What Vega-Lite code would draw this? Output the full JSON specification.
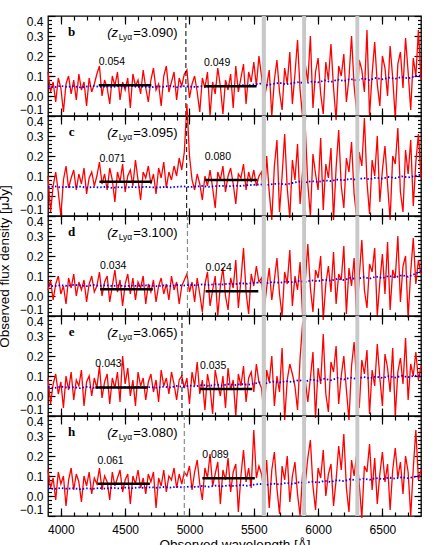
{
"$schema":"https://vega.github.io/schema/vega-lite/v6.json",
"padding":{"left":-4,"top":14,"right":15,"bottom":0},
"bounds":"flush",
"spacing":0,
"config":{"view":{"stroke":"black","strokeWidth":1.3},"font":"Liberation Sans","axis":{"domain":false,"grid":false,"tickColor":"black","tickWidth":1.2,"labelColor":"black","labelFont":"Liberation Sans","labelFontSize":12,"titleFont":"Liberation Sans","titleFontWeight":"normal","titleColor":"black"}},
"datasets":{
"red":[
{"w":3900,"b":0.12,"c":0.10,"d":0.03,"e":0.09,"h":0.13},
{"w":3920,"b":0.02,"c":-0.08,"d":0.08,"e":-0.04,"h":0.04},
{"w":3940,"b":0.07,"c":0.05,"d":-0.02,"e":0.06,"h":0.09},
{"w":3960,"b":-0.03,"c":0.12,"d":0.06,"e":0.11,"h":-0.02},
{"w":3980,"b":0.09,"c":0.02,"d":0.10,"e":0.01,"h":0.12},
{"w":4000,"b":0.04,"c":-0.10,"d":0.01,"e":0.07,"h":0.06},
{"w":4020,"b":-0.08,"c":0.08,"d":0.05,"e":-0.06,"h":0.10},
{"w":4040,"b":0.06,"c":0.15,"d":-0.04,"e":0.10,"h":-0.05},
{"w":4060,"b":0.10,"c":0.04,"d":0.09,"e":0.03,"h":0.08},
{"w":4080,"b":0.01,"c":0.09,"d":0.04,"e":0.12,"h":0.14},
{"w":4100,"b":0.08,"c":0.13,"d":0.11,"e":-0.02,"h":0.03},
{"w":4120,"b":-0.02,"c":0.03,"d":0.00,"e":0.08,"h":0.11},
{"w":4140,"b":0.11,"c":0.11,"d":0.07,"e":0.05,"h":0.07},
{"w":4160,"b":0.03,"c":0.06,"d":0.03,"e":0.13,"h":-0.03},
{"w":4180,"b":0.07,"c":0.14,"d":0.08,"e":-0.05,"h":0.10},
{"w":4200,"b":-0.05,"c":0.01,"d":-0.03,"e":0.07,"h":0.05},
{"w":4220,"b":0.09,"c":0.09,"d":0.06,"e":0.10,"h":0.12},
{"w":4240,"b":0.02,"c":0.12,"d":0.10,"e":0.00,"h":0.01},
{"w":4260,"b":0.06,"c":0.05,"d":0.02,"e":0.09,"h":0.09},
{"w":4280,"b":0.11,"c":0.10,"d":0.05,"e":0.04,"h":0.06},
{"w":4300,"b":0.15,"c":0.17,"d":0.12,"e":0.15,"h":0.14},
{"w":4320,"b":0.00,"c":0.06,"d":0.00,"e":-0.01,"h":0.03},
{"w":4340,"b":0.08,"c":0.11,"d":0.07,"e":0.07,"h":0.10},
{"w":4360,"b":0.04,"c":0.03,"d":0.10,"e":0.11,"h":0.07},
{"w":4380,"b":-0.04,"c":0.14,"d":-0.03,"e":-0.04,"h":-0.02},
{"w":4400,"b":0.10,"c":0.08,"d":0.05,"e":0.09,"h":0.12},
{"w":4420,"b":0.05,"c":-0.03,"d":0.13,"e":0.04,"h":0.05},
{"w":4440,"b":0.12,"c":0.12,"d":0.02,"e":0.12,"h":0.09},
{"w":4460,"b":-0.02,"c":0.07,"d":0.08,"e":-0.03,"h":0.13},
{"w":4480,"b":0.07,"c":0.16,"d":-0.05,"e":0.20,"h":0.02},
{"w":4500,"b":0.03,"c":0.02,"d":0.06,"e":0.06,"h":0.08},
{"w":4520,"b":0.09,"c":0.10,"d":0.11,"e":0.14,"h":0.11},
{"w":4540,"b":-0.06,"c":0.13,"d":0.01,"e":0.00,"h":-0.04},
{"w":4560,"b":0.11,"c":0.05,"d":0.09,"e":0.08,"h":0.10},
{"w":4580,"b":0.05,"c":0.18,"d":-0.02,"e":-0.05,"h":0.06},
{"w":4600,"b":0.08,"c":0.08,"d":0.07,"e":0.12,"h":0.13},
{"w":4620,"b":0.01,"c":-0.02,"d":0.04,"e":0.05,"h":0.04},
{"w":4640,"b":0.13,"c":0.12,"d":0.10,"e":0.09,"h":0.09},
{"w":4660,"b":0.04,"c":0.09,"d":-0.04,"e":-0.02,"h":0.01},
{"w":4680,"b":-0.03,"c":0.15,"d":0.06,"e":0.07,"h":0.11},
{"w":4700,"b":0.08,"c":0.06,"d":0.02,"e":0.11,"h":0.07},
{"w":4720,"b":0.14,"c":0.11,"d":0.08,"e":0.02,"h":0.12},
{"w":4740,"b":0.03,"c":0.01,"d":-0.03,"e":0.08,"h":-0.06},
{"w":4760,"b":0.06,"c":0.14,"d":0.05,"e":-0.03,"h":0.09},
{"w":4780,"b":-0.05,"c":0.09,"d":0.09,"e":0.13,"h":0.05},
{"w":4800,"b":0.10,"c":0.17,"d":0.01,"e":0.05,"h":0.13},
{"w":4820,"b":0.15,"c":0.04,"d":0.06,"e":0.09,"h":0.02},
{"w":4840,"b":0.02,"c":0.12,"d":-0.02,"e":0.01,"h":0.10},
{"w":4860,"b":0.07,"c":0.08,"d":0.10,"e":0.12,"h":0.08},
{"w":4880,"b":0.12,"c":0.15,"d":0.03,"e":0.06,"h":0.14},
{"w":4900,"b":-0.02,"c":0.10,"d":0.07,"e":-0.02,"h":0.04},
{"w":4920,"b":0.09,"c":0.19,"d":-0.04,"e":0.08,"h":0.11},
{"w":4940,"b":0.05,"c":0.13,"d":0.05,"e":0.10,"h":0.06},
{"w":4960,"b":0.11,"c":0.22,"d":0.08,"e":0.04,"h":0.12},
{"w":4980,"b":0.13,"c":0.46,"d":0.11,"e":0.09,"h":0.10},
{"w":5000,"b":-0.01,"c":0.20,"d":0.02,"e":-0.04,"h":0.15},
{"w":5020,"b":0.06,"c":0.08,"d":0.07,"e":0.12,"h":0.03},
{"w":5040,"b":0.10,"c":0.03,"d":-0.03,"e":0.05,"h":0.12},
{"w":5060,"b":0.02,"c":0.11,"d":0.09,"e":0.17,"h":0.18},
{"w":5080,"b":-0.08,"c":0.06,"d":0.01,"e":0.01,"h":0.06},
{"w":5100,"b":0.09,"c":-0.02,"d":-0.08,"e":0.08,"h":-0.02},
{"w":5120,"b":0.04,"c":0.10,"d":0.06,"e":-0.07,"h":0.14},
{"w":5140,"b":0.12,"c":0.05,"d":0.12,"e":0.11,"h":0.09},
{"w":5160,"b":-0.10,"c":0.13,"d":-0.05,"e":0.04,"h":0.21},
{"w":5180,"b":0.07,"c":0.04,"d":0.03,"e":-0.09,"h":0.05},
{"w":5200,"b":0.01,"c":-0.06,"d":0.10,"e":0.13,"h":0.11},
{"w":5220,"b":0.14,"c":0.12,"d":-0.10,"e":0.06,"h":0.17},
{"w":5240,"b":0.05,"c":0.08,"d":0.05,"e":0.00,"h":-0.04},
{"w":5260,"b":-0.09,"c":0.15,"d":0.14,"e":0.10,"h":0.13},
{"w":5280,"b":0.08,"c":0.02,"d":0.00,"e":-0.06,"h":0.08},
{"w":5300,"b":0.03,"c":0.10,"d":-0.07,"e":0.14,"h":0.19},
{"w":5320,"b":0.11,"c":0.14,"d":0.09,"e":0.03,"h":0.02},
{"w":5340,"b":-0.06,"c":0.06,"d":0.04,"e":0.08,"h":0.12},
{"w":5360,"b":0.15,"c":-0.04,"d":0.18,"e":-0.10,"h":0.16},
{"w":5380,"b":0.02,"c":0.11,"d":-0.06,"e":0.11,"h":-0.08},
{"w":5400,"b":0.09,"c":0.09,"d":0.08,"e":0.05,"h":0.10},
{"w":5420,"b":0.16,"c":0.16,"d":0.24,"e":0.15,"h":0.23},
{"w":5440,"b":-0.04,"c":0.03,"d":0.02,"e":-0.03,"h":0.07},
{"w":5460,"b":0.12,"c":0.12,"d":-0.09,"e":0.09,"h":0.14},
{"w":5480,"b":0.07,"c":0.07,"d":0.11,"e":0.12,"h":0.04},
{"w":5500,"b":0.17,"c":0.13,"d":0.05,"e":0.02,"h":0.33},
{"w":5520,"b":0.05,"c":0.05,"d":0.15,"e":0.16,"h":0.09},
{"w":5540,"b":0.20,"c":0.10,"d":0.07,"e":0.07,"h":0.15},
{"w":5560,"b":0.10,"c":0.12,"d":0.09,"e":0.04,"h":0.11},
{"w":5580,"b":-0.02,"c":-0.05,"d":-0.07,"e":-0.10,"h":0.02},
{"w":5600,"b":0.05,"c":0.20,"d":0.04,"e":0.13,"h":0.18},
{"w":5620,"b":0.13,"c":0.02,"d":0.14,"e":0.07,"h":-0.06},
{"w":5640,"b":-0.10,"c":-0.12,"d":-0.02,"e":0.20,"h":0.13},
{"w":5660,"b":0.08,"c":0.15,"d":0.08,"e":-0.05,"h":0.22},
{"w":5680,"b":0.18,"c":0.28,"d":0.19,"e":0.10,"h":0.04},
{"w":5700,"b":0.02,"c":-0.08,"d":0.01,"e":0.02,"h":-0.09},
{"w":5720,"b":-0.07,"c":0.10,"d":-0.10,"e":0.24,"h":0.15},
{"w":5740,"b":0.14,"c":0.31,"d":0.12,"e":-0.12,"h":0.08},
{"w":5760,"b":0.06,"c":0.04,"d":0.06,"e":0.08,"h":0.20},
{"w":5780,"b":0.22,"c":-0.11,"d":0.23,"e":0.16,"h":-0.03},
{"w":5800,"b":-0.04,"c":0.18,"d":-0.05,"e":0.11,"h":0.10},
{"w":5820,"b":0.11,"c":0.08,"d":0.10,"e":0.05,"h":0.17},
{"w":5840,"b":0.28,"c":0.26,"d":0.03,"e":-0.07,"h":0.01},
{"w":5860,"b":0.03,"c":-0.04,"d":0.17,"e":0.19,"h":-0.10},
{"w":5880,"b":-0.11,"c":0.13,"d":-0.11,"e":0.37,"h":0.12},
{"w":5900,"b":0.16,"c":0.35,"d":0.07,"e":0.08,"h":0.06},
{"w":5920,"b":0.07,"c":0.06,"d":0.26,"e":-0.03,"h":0.19},
{"w":5940,"b":0.30,"c":-0.10,"d":0.04,"e":0.09,"h":0.28},
{"w":5960,"b":-0.06,"c":0.21,"d":-0.08,"e":0.22,"h":0.05},
{"w":5980,"b":0.12,"c":0.11,"d":0.13,"e":-0.11,"h":-0.07},
{"w":6000,"b":0.19,"c":0.03,"d":0.09,"e":0.14,"h":0.14},
{"w":6020,"b":0.01,"c":0.29,"d":0.20,"e":0.06,"h":0.09},
{"w":6040,"b":-0.09,"c":-0.07,"d":-0.12,"e":0.31,"h":0.23},
{"w":6060,"b":0.17,"c":0.16,"d":0.06,"e":0.01,"h":0.00},
{"w":6080,"b":0.08,"c":0.09,"d":0.15,"e":-0.08,"h":0.11},
{"w":6100,"b":0.26,"c":0.24,"d":0.02,"e":0.17,"h":0.16},
{"w":6120,"b":0.04,"c":-0.12,"d":0.22,"e":0.12,"h":-0.05},
{"w":6140,"b":-0.12,"c":0.14,"d":-0.04,"e":0.25,"h":0.08},
{"w":6160,"b":0.15,"c":0.33,"d":0.11,"e":-0.04,"h":0.25},
{"w":6180,"b":0.10,"c":0.05,"d":0.08,"e":0.10,"h":0.13},
{"w":6200,"b":0.21,"c":-0.06,"d":0.25,"e":0.20,"h":0.31},
{"w":6220,"b":-0.03,"c":0.19,"d":-0.09,"e":0.03,"h":0.04},
{"w":6240,"b":0.09,"c":0.12,"d":0.14,"e":-0.12,"h":-0.08},
{"w":6260,"b":0.30,"c":0.27,"d":0.05,"e":0.15,"h":0.18},
{"w":6280,"b":0.05,"c":0.01,"d":0.19,"e":0.27,"h":0.10},
{"w":6300,"b":-0.08,"c":-0.11,"d":-0.12,"e":0.07,"h":0.21},
{"w":6320,"b":0.18,"c":0.22,"d":0.10,"e":-0.06,"h":0.06},
{"w":6340,"b":0.13,"c":0.15,"d":0.28,"e":0.18,"h":-0.11},
{"w":6360,"b":0.02,"c":0.39,"d":0.03,"e":0.11,"h":0.15},
{"w":6380,"b":0.33,"c":0.07,"d":-0.06,"e":0.23,"h":0.12},
{"w":6400,"b":-0.10,"c":-0.09,"d":0.16,"e":-0.09,"h":0.26},
{"w":6420,"b":0.11,"c":0.18,"d":0.12,"e":0.13,"h":0.03},
{"w":6440,"b":0.27,"c":0.10,"d":0.24,"e":0.05,"h":0.19},
{"w":6460,"b":0.06,"c":0.30,"d":-0.10,"e":0.26,"h":-0.04},
{"w":6480,"b":-0.05,"c":-0.03,"d":0.07,"e":0.09,"h":0.11},
{"w":6500,"b":0.20,"c":0.13,"d":0.21,"e":-0.05,"h":0.22},
{"w":6520,"b":0.14,"c":0.25,"d":0.01,"e":0.21,"h":0.07},
{"w":6540,"b":0.00,"c":0.06,"d":0.27,"e":0.14,"h":0.16},
{"w":6560,"b":0.25,"c":-0.12,"d":-0.07,"e":0.02,"h":-0.07},
{"w":6580,"b":0.09,"c":0.20,"d":0.13,"e":0.24,"h":0.13},
{"w":6600,"b":-0.11,"c":0.16,"d":0.09,"e":-0.10,"h":0.24},
{"w":6620,"b":0.16,"c":0.34,"d":0.30,"e":0.12,"h":0.09},
{"w":6640,"b":0.22,"c":0.02,"d":-0.03,"e":0.19,"h":0.17},
{"w":6660,"b":0.04,"c":-0.08,"d":0.15,"e":0.06,"h":0.01},
{"w":6680,"b":0.29,"c":0.23,"d":0.20,"e":0.29,"h":0.20},
{"w":6700,"b":0.12,"c":0.11,"d":-0.11,"e":-0.02,"h":0.12},
{"w":6720,"b":-0.07,"c":0.28,"d":0.12,"e":0.16,"h":-0.10},
{"w":6740,"b":0.19,"c":-0.05,"d":0.29,"e":0.10,"h":0.14},
{"w":6760,"b":0.10,"c":0.17,"d":0.06,"e":0.22,"h":0.33},
{"w":6780,"b":0.33,"c":0.31,"d":0.18,"e":0.08,"h":0.08},
{"w":6800,"b":0.08,"c":0.09,"d":0.11,"e":0.15,"h":0.13}
],
"blue":[
{"w":3900,"b":0.048,"c":0.045,"d":0.052,"e":0.045,"h":0.038},
{"w":3950,"b":0.044,"c":0.048,"d":0.049,"e":0.040,"h":0.035},
{"w":4000,"b":0.050,"c":0.043,"d":0.054,"e":0.047,"h":0.040},
{"w":4050,"b":0.046,"c":0.046,"d":0.050,"e":0.042,"h":0.036},
{"w":4100,"b":0.049,"c":0.044,"d":0.056,"e":0.044,"h":0.039},
{"w":4150,"b":0.043,"c":0.047,"d":0.053,"e":0.039,"h":0.034},
{"w":4200,"b":0.047,"c":0.042,"d":0.049,"e":0.046,"h":0.038},
{"w":4250,"b":0.051,"c":0.045,"d":0.055,"e":0.041,"h":0.036},
{"w":4300,"b":0.045,"c":0.043,"d":0.051,"e":0.043,"h":0.040},
{"w":4350,"b":0.048,"c":0.046,"d":0.054,"e":0.040,"h":0.037},
{"w":4400,"b":0.044,"c":0.041,"d":0.050,"e":0.045,"h":0.041},
{"w":4450,"b":0.049,"c":0.044,"d":0.053,"e":0.041,"h":0.038},
{"w":4500,"b":0.046,"c":0.042,"d":0.049,"e":0.044,"h":0.042},
{"w":4550,"b":0.050,"c":0.045,"d":0.052,"e":0.040,"h":0.039},
{"w":4600,"b":0.045,"c":0.043,"d":0.050,"e":0.046,"h":0.043},
{"w":4650,"b":0.047,"c":0.046,"d":0.054,"e":0.042,"h":0.040},
{"w":4700,"b":0.043,"c":0.044,"d":0.051,"e":0.045,"h":0.044},
{"w":4750,"b":0.048,"c":0.042,"d":0.049,"e":0.041,"h":0.041},
{"w":4800,"b":0.046,"c":0.045,"d":0.053,"e":0.047,"h":0.045},
{"w":4850,"b":0.051,"c":0.043,"d":0.050,"e":0.043,"h":0.042},
{"w":4900,"b":0.044,"c":0.046,"d":0.055,"e":0.050,"h":0.046},
{"w":4950,"b":0.049,"c":0.048,"d":0.052,"e":0.046,"h":0.043},
{"w":5000,"b":0.047,"c":0.045,"d":0.056,"e":0.052,"h":0.048},
{"w":5050,"b":0.045,"c":0.047,"d":0.053,"e":0.048,"h":0.045},
{"w":5100,"b":0.050,"c":0.050,"d":0.058,"e":0.055,"h":0.050},
{"w":5150,"b":0.046,"c":0.046,"d":0.055,"e":0.050,"h":0.046},
{"w":5200,"b":0.052,"c":0.049,"d":0.060,"e":0.057,"h":0.052},
{"w":5250,"b":0.048,"c":0.051,"d":0.057,"e":0.052,"h":0.048},
{"w":5300,"b":0.053,"c":0.048,"d":0.062,"e":0.059,"h":0.053},
{"w":5350,"b":0.049,"c":0.052,"d":0.059,"e":0.054,"h":0.050},
{"w":5400,"b":0.055,"c":0.050,"d":0.064,"e":0.060,"h":0.055},
{"w":5450,"b":0.052,"c":0.054,"d":0.061,"e":0.056,"h":0.051},
{"w":5500,"b":0.058,"c":0.056,"d":0.066,"e":0.062,"h":0.057},
{"w":5550,"b":0.062,"c":0.058,"d":0.068,"e":0.068,"h":0.060},
{"w":5600,"b":0.055,"c":0.055,"d":0.064,"e":0.064,"h":0.056},
{"w":5650,"b":0.060,"c":0.060,"d":0.070,"e":0.072,"h":0.062},
{"w":5700,"b":0.066,"c":0.062,"d":0.066,"e":0.067,"h":0.058},
{"w":5750,"b":0.058,"c":0.058,"d":0.072,"e":0.075,"h":0.065},
{"w":5800,"b":0.064,"c":0.065,"d":0.069,"e":0.070,"h":0.061},
{"w":5850,"b":0.070,"c":0.072,"d":0.075,"e":0.080,"h":0.068},
{"w":5900,"b":0.062,"c":0.068,"d":0.071,"e":0.072,"h":0.064},
{"w":5950,"b":0.072,"c":0.074,"d":0.078,"e":0.083,"h":0.072},
{"w":6000,"b":0.068,"c":0.070,"d":0.074,"e":0.076,"h":0.067},
{"w":6050,"b":0.078,"c":0.078,"d":0.082,"e":0.086,"h":0.076},
{"w":6100,"b":0.070,"c":0.075,"d":0.077,"e":0.079,"h":0.070},
{"w":6150,"b":0.082,"c":0.082,"d":0.086,"e":0.090,"h":0.080},
{"w":6200,"b":0.075,"c":0.079,"d":0.080,"e":0.082,"h":0.074},
{"w":6250,"b":0.085,"c":0.086,"d":0.090,"e":0.092,"h":0.084},
{"w":6300,"b":0.078,"c":0.080,"d":0.084,"e":0.085,"h":0.078},
{"w":6350,"b":0.088,"c":0.090,"d":0.094,"e":0.095,"h":0.087},
{"w":6400,"b":0.080,"c":0.084,"d":0.087,"e":0.088,"h":0.081},
{"w":6450,"b":0.090,"c":0.092,"d":0.097,"e":0.097,"h":0.090},
{"w":6500,"b":0.083,"c":0.087,"d":0.090,"e":0.090,"h":0.084},
{"w":6550,"b":0.092,"c":0.095,"d":0.100,"e":0.099,"h":0.092},
{"w":6600,"b":0.086,"c":0.089,"d":0.093,"e":0.092,"h":0.087},
{"w":6650,"b":0.095,"c":0.098,"d":0.104,"e":0.101,"h":0.094},
{"w":6700,"b":0.088,"c":0.093,"d":0.096,"e":0.094,"h":0.089},
{"w":6750,"b":0.098,"c":0.100,"d":0.110,"e":0.102,"h":0.096},
{"w":6800,"b":0.104,"c":0.106,"d":0.125,"e":0.098,"h":0.100}
],
"panels":[
{"p":"b","lya":4972.1,"zt":"=3.090)"},
{"p":"c","lya":4978.2,"zt":"=3.095)"},
{"p":"d","lya":4984.2,"zt":"=3.100)"},
{"p":"e","lya":4941.7,"zt":"=3.065)"},
{"p":"h","lya":4959.9,"zt":"=3.080)"}
],
"bars":[
{"p":"b","x1":4294.5,"x2":4703.5,"v":0.054},
{"p":"b","x1":5112.5,"x2":5521.5,"v":0.049},
{"p":"c","x1":4299.8,"x2":4709.3,"v":0.071},
{"p":"c","x1":5118.8,"x2":5528.3,"v":0.080},
{"p":"d","x1":4305,"x2":4715,"v":0.034},
{"p":"d","x1":5125,"x2":5535,"v":0.024},
{"p":"e","x1":4268.3,"x2":4674.8,"v":0.043},
{"p":"e","x1":5081.3,"x2":5487.8,"v":0.035},
{"p":"h","x1":4284,"x2":4692,"v":0.061},
{"p":"h","x1":5100,"x2":5508,"v":0.089}
],
"bands":[
{"s":5562,"e":5594},
{"s":5876,"e":5906},
{"s":6290,"e":6320}
]
},
"vconcat":[
{"width":373,"height":100,"resolve":{"axis":{"x":"independent","y":"independent"}},
"layer":[
{"data":{"name":"red"},"mark":{"type":"line","color":"#ff0000","strokeWidth":1.3},
"encoding":{"x":{"field":"w","type":"quantitative","scale":{"domain":[3900,6800],"nice":false,"zero":false},"axis":{"orient":"bottom","values":[4000,4500,5000,5500,6000,6500],"tickSize":-8,"labels":false,"title":null}},
"y":{"field":"b","type":"quantitative","scale":{"domain":[-0.1,0.4],"nice":false,"zero":false},"axis":{"orient":"left","values":[-0.1,0,0.1,0.2,0.3,0.4],"tickSize":-7,"labelFlush":true,"format":".1f","labelPadding":12,"title":null}}}},
{"data":{"name":"blue"},"mark":{"type":"line","color":"#0000ff","strokeWidth":1.8,"strokeDash":[1.5,2]},
"encoding":{"x":{"field":"w","type":"quantitative","axis":{"orient":"bottom","values":[4000,4100,4200,4300,4400,4500,4600,4700,4800,4900,5000,5100,5200,5300,5400,5500,5600,5700,5800,5900,6000,6100,6200,6300,6400,6500,6600,6700],"tickSize":-4,"labels":false,"title":null}},
"y":{"field":"b","type":"quantitative","axis":{"orient":"left","values":[-0.08,-0.06,-0.04,-0.02,0,0.02,0.04,0.06,0.08,0.1,0.12,0.14,0.16,0.18,0.2,0.22,0.24,0.26,0.28,0.3,0.32,0.34,0.36,0.38],"tickSize":-3.5,"labels":false,"title":null}}}},
{"data":{"name":"bands"},"mark":{"type":"rect","color":"#c8c8c8"},
"encoding":{"x":{"field":"s","type":"quantitative","axis":{"orient":"top","values":[4000,4500,5000,5500,6000,6500],"tickSize":-8,"labels":false,"title":null}},"x2":{"field":"e"},
"y":{"datum":-0.1,"type":"quantitative","axis":{"orient":"right","values":[-0.1,0,0.1,0.2,0.3,0.4],"tickSize":-7,"labels":false,"title":null}},"y2":{"datum":0.4}}},
{"data":{"name":"panels"},"transform":[{"filter":"datum.p=='b'"}],"mark":{"type":"rule","color":"black","strokeWidth":1,"strokeDash":[5,3]},
"encoding":{"x":{"field":"lya","type":"quantitative","axis":{"orient":"top","values":[4000,4100,4200,4300,4400,4500,4600,4700,4800,4900,5000,5100,5200,5300,5400,5500,5600,5700,5800,5900,6000,6100,6200,6300,6400,6500,6600,6700],"tickSize":-4,"labels":false,"title":null}},
"y":{"datum":-0.1,"type":"quantitative","axis":{"orient":"right","values":[-0.08,-0.06,-0.04,-0.02,0,0.02,0.04,0.06,0.08,0.1,0.12,0.14,0.16,0.18,0.2,0.22,0.24,0.26,0.28,0.3,0.32,0.34,0.36,0.38],"tickSize":-3.5,"labels":false,"title":null}},"y2":{"datum":0.4}}},
{"data":{"name":"bars"},"transform":[{"filter":"datum.p=='b'"}],"mark":{"type":"rule","color":"black","strokeWidth":2.5},
"encoding":{"x":{"field":"x1","type":"quantitative","axis":null},"x2":{"field":"x2"},"y":{"field":"v","type":"quantitative","axis":null}}},
{"data":{"name":"bars"},"transform":[{"filter":"datum.p=='b'"}],"mark":{"type":"text","align":"left","baseline":"middle","dy":-23,"fontSize":10.5,"color":"black"},
"encoding":{"x":{"field":"x1","type":"quantitative","axis":null},"y":{"field":"v","type":"quantitative","axis":null},"text":{"field":"v","format":".3f"}}},
{"data":{"name":"panels"},"transform":[{"filter":"datum.p=='b'"}],"mark":{"type":"text","font":"Liberation Serif","fontWeight":"bold","fontSize":13,"align":"center","baseline":"middle","color":"black"},
"encoding":{"x":{"datum":4084,"type":"quantitative","axis":null},"y":{"datum":0.318,"type":"quantitative","axis":null},"text":{"field":"p"}}},
{"data":{"name":"panels"},"transform":[{"filter":"datum.p=='b'"}],"mark":{"type":"text","fontSize":13,"fontStyle":"italic","align":"left","baseline":"middle","color":"black"},
"encoding":{"x":{"datum":4360,"type":"quantitative","axis":null},"y":{"datum":0.315,"type":"quantitative","axis":null},"text":{"value":"(z"}}},
{"data":{"name":"panels"},"transform":[{"filter":"datum.p=='b'"}],"mark":{"type":"text","fontSize":8.5,"align":"left","baseline":"middle","dx":11.5,"dy":4,"color":"black"},
"encoding":{"x":{"datum":4360,"type":"quantitative","axis":null},"y":{"datum":0.315,"type":"quantitative","axis":null},"text":{"value":"Lyα"}}},
{"data":{"name":"panels"},"transform":[{"filter":"datum.p=='b'"}],"mark":{"type":"text","fontSize":13,"align":"left","baseline":"middle","dx":26,"color":"black"},
"encoding":{"x":{"datum":4360,"type":"quantitative","axis":null},"y":{"datum":0.315,"type":"quantitative","axis":null},"text":{"field":"zt"}}}
]},
{"width":373,"height":100,"resolve":{"axis":{"x":"independent","y":"independent"}},
"layer":[
{"data":{"name":"red"},"mark":{"type":"line","color":"#ff0000","strokeWidth":1.3},
"encoding":{"x":{"field":"w","type":"quantitative","scale":{"domain":[3900,6800],"nice":false,"zero":false},"axis":{"orient":"bottom","values":[4000,4500,5000,5500,6000,6500],"tickSize":-8,"labels":false,"title":null}},
"y":{"field":"c","type":"quantitative","scale":{"domain":[-0.1,0.4],"nice":false,"zero":false},"axis":{"orient":"left","values":[-0.1,0,0.1,0.2,0.3,0.4],"tickSize":-7,"labelFlush":true,"format":".1f","labelPadding":12,"title":null}}}},
{"data":{"name":"blue"},"mark":{"type":"line","color":"#0000ff","strokeWidth":1.8,"strokeDash":[1.5,2]},
"encoding":{"x":{"field":"w","type":"quantitative","axis":{"orient":"bottom","values":[4000,4100,4200,4300,4400,4500,4600,4700,4800,4900,5000,5100,5200,5300,5400,5500,5600,5700,5800,5900,6000,6100,6200,6300,6400,6500,6600,6700],"tickSize":-4,"labels":false,"title":null}},
"y":{"field":"c","type":"quantitative","axis":{"orient":"left","values":[-0.08,-0.06,-0.04,-0.02,0,0.02,0.04,0.06,0.08,0.1,0.12,0.14,0.16,0.18,0.2,0.22,0.24,0.26,0.28,0.3,0.32,0.34,0.36,0.38],"tickSize":-3.5,"labels":false,"title":null}}}},
{"data":{"name":"bands"},"mark":{"type":"rect","color":"#c8c8c8"},
"encoding":{"x":{"field":"s","type":"quantitative","axis":{"orient":"top","values":[4000,4500,5000,5500,6000,6500],"tickSize":-8,"labels":false,"title":null}},"x2":{"field":"e"},
"y":{"datum":-0.1,"type":"quantitative","axis":{"orient":"right","values":[-0.1,0,0.1,0.2,0.3,0.4],"tickSize":-7,"labels":false,"title":null}},"y2":{"datum":0.4}}},
{"data":{"name":"panels"},"transform":[{"filter":"datum.p=='c'"}],"mark":{"type":"rule","color":"black","strokeWidth":1,"strokeDash":[5,3]},
"encoding":{"x":{"field":"lya","type":"quantitative","axis":{"orient":"top","values":[4000,4100,4200,4300,4400,4500,4600,4700,4800,4900,5000,5100,5200,5300,5400,5500,5600,5700,5800,5900,6000,6100,6200,6300,6400,6500,6600,6700],"tickSize":-4,"labels":false,"title":null}},
"y":{"datum":-0.1,"type":"quantitative","axis":{"orient":"right","values":[-0.08,-0.06,-0.04,-0.02,0,0.02,0.04,0.06,0.08,0.1,0.12,0.14,0.16,0.18,0.2,0.22,0.24,0.26,0.28,0.3,0.32,0.34,0.36,0.38],"tickSize":-3.5,"labels":false,"title":null}},"y2":{"datum":0.4}}},
{"data":{"name":"bars"},"transform":[{"filter":"datum.p=='c'"}],"mark":{"type":"rule","color":"black","strokeWidth":2.5},
"encoding":{"x":{"field":"x1","type":"quantitative","axis":null},"x2":{"field":"x2"},"y":{"field":"v","type":"quantitative","axis":null}}},
{"data":{"name":"bars"},"transform":[{"filter":"datum.p=='c'"}],"mark":{"type":"text","align":"left","baseline":"middle","dy":-23,"fontSize":10.5,"color":"black"},
"encoding":{"x":{"field":"x1","type":"quantitative","axis":null},"y":{"field":"v","type":"quantitative","axis":null},"text":{"field":"v","format":".3f"}}},
{"data":{"name":"panels"},"transform":[{"filter":"datum.p=='c'"}],"mark":{"type":"text","font":"Liberation Serif","fontWeight":"bold","fontSize":13,"align":"center","baseline":"middle","color":"black"},
"encoding":{"x":{"datum":4084,"type":"quantitative","axis":null},"y":{"datum":0.318,"type":"quantitative","axis":null},"text":{"field":"p"}}},
{"data":{"name":"panels"},"transform":[{"filter":"datum.p=='c'"}],"mark":{"type":"text","fontSize":13,"fontStyle":"italic","align":"left","baseline":"middle","color":"black"},
"encoding":{"x":{"datum":4360,"type":"quantitative","axis":null},"y":{"datum":0.315,"type":"quantitative","axis":null},"text":{"value":"(z"}}},
{"data":{"name":"panels"},"transform":[{"filter":"datum.p=='c'"}],"mark":{"type":"text","fontSize":8.5,"align":"left","baseline":"middle","dx":11.5,"dy":4,"color":"black"},
"encoding":{"x":{"datum":4360,"type":"quantitative","axis":null},"y":{"datum":0.315,"type":"quantitative","axis":null},"text":{"value":"Lyα"}}},
{"data":{"name":"panels"},"transform":[{"filter":"datum.p=='c'"}],"mark":{"type":"text","fontSize":13,"align":"left","baseline":"middle","dx":26,"color":"black"},
"encoding":{"x":{"datum":4360,"type":"quantitative","axis":null},"y":{"datum":0.315,"type":"quantitative","axis":null},"text":{"field":"zt"}}}
]},
{"width":373,"height":100,"resolve":{"axis":{"x":"independent","y":"independent"}},
"layer":[
{"data":{"name":"red"},"mark":{"type":"line","color":"#ff0000","strokeWidth":1.3},
"encoding":{"x":{"field":"w","type":"quantitative","scale":{"domain":[3900,6800],"nice":false,"zero":false},"axis":{"orient":"bottom","values":[4000,4500,5000,5500,6000,6500],"tickSize":-8,"labels":false,"title":null}},
"y":{"field":"d","type":"quantitative","scale":{"domain":[-0.1,0.4],"nice":false,"zero":false},"axis":{"orient":"left","values":[-0.1,0,0.1,0.2,0.3,0.4],"tickSize":-7,"labelFlush":true,"format":".1f","labelPadding":12,"title":"Observed flux density [μJy]","titleFontSize":13.5,"titlePadding":8}}}},
{"data":{"name":"blue"},"mark":{"type":"line","color":"#0000ff","strokeWidth":1.8,"strokeDash":[1.5,2]},
"encoding":{"x":{"field":"w","type":"quantitative","axis":{"orient":"bottom","values":[4000,4100,4200,4300,4400,4500,4600,4700,4800,4900,5000,5100,5200,5300,5400,5500,5600,5700,5800,5900,6000,6100,6200,6300,6400,6500,6600,6700],"tickSize":-4,"labels":false,"title":null}},
"y":{"field":"d","type":"quantitative","axis":{"orient":"left","values":[-0.08,-0.06,-0.04,-0.02,0,0.02,0.04,0.06,0.08,0.1,0.12,0.14,0.16,0.18,0.2,0.22,0.24,0.26,0.28,0.3,0.32,0.34,0.36,0.38],"tickSize":-3.5,"labels":false,"title":null}}}},
{"data":{"name":"bands"},"mark":{"type":"rect","color":"#c8c8c8"},
"encoding":{"x":{"field":"s","type":"quantitative","axis":{"orient":"top","values":[4000,4500,5000,5500,6000,6500],"tickSize":-8,"labels":false,"title":null}},"x2":{"field":"e"},
"y":{"datum":-0.1,"type":"quantitative","axis":{"orient":"right","values":[-0.1,0,0.1,0.2,0.3,0.4],"tickSize":-7,"labels":false,"title":null}},"y2":{"datum":0.4}}},
{"data":{"name":"panels"},"transform":[{"filter":"datum.p=='d'"}],"mark":{"type":"rule","color":"#8c8c8c","strokeWidth":1.2,"strokeDash":[5,3]},
"encoding":{"x":{"field":"lya","type":"quantitative","axis":{"orient":"top","values":[4000,4100,4200,4300,4400,4500,4600,4700,4800,4900,5000,5100,5200,5300,5400,5500,5600,5700,5800,5900,6000,6100,6200,6300,6400,6500,6600,6700],"tickSize":-4,"labels":false,"title":null}},
"y":{"datum":-0.1,"type":"quantitative","axis":{"orient":"right","values":[-0.08,-0.06,-0.04,-0.02,0,0.02,0.04,0.06,0.08,0.1,0.12,0.14,0.16,0.18,0.2,0.22,0.24,0.26,0.28,0.3,0.32,0.34,0.36,0.38],"tickSize":-3.5,"labels":false,"title":null}},"y2":{"datum":0.4}}},
{"data":{"name":"bars"},"transform":[{"filter":"datum.p=='d'"}],"mark":{"type":"rule","color":"black","strokeWidth":2.5},
"encoding":{"x":{"field":"x1","type":"quantitative","axis":null},"x2":{"field":"x2"},"y":{"field":"v","type":"quantitative","axis":null}}},
{"data":{"name":"bars"},"transform":[{"filter":"datum.p=='d'"}],"mark":{"type":"text","align":"left","baseline":"middle","dy":-23,"fontSize":10.5,"color":"black"},
"encoding":{"x":{"field":"x1","type":"quantitative","axis":null},"y":{"field":"v","type":"quantitative","axis":null},"text":{"field":"v","format":".3f"}}},
{"data":{"name":"panels"},"transform":[{"filter":"datum.p=='d'"}],"mark":{"type":"text","font":"Liberation Serif","fontWeight":"bold","fontSize":13,"align":"center","baseline":"middle","color":"black"},
"encoding":{"x":{"datum":4084,"type":"quantitative","axis":null},"y":{"datum":0.318,"type":"quantitative","axis":null},"text":{"field":"p"}}},
{"data":{"name":"panels"},"transform":[{"filter":"datum.p=='d'"}],"mark":{"type":"text","fontSize":13,"fontStyle":"italic","align":"left","baseline":"middle","color":"black"},
"encoding":{"x":{"datum":4360,"type":"quantitative","axis":null},"y":{"datum":0.315,"type":"quantitative","axis":null},"text":{"value":"(z"}}},
{"data":{"name":"panels"},"transform":[{"filter":"datum.p=='d'"}],"mark":{"type":"text","fontSize":8.5,"align":"left","baseline":"middle","dx":11.5,"dy":4,"color":"black"},
"encoding":{"x":{"datum":4360,"type":"quantitative","axis":null},"y":{"datum":0.315,"type":"quantitative","axis":null},"text":{"value":"Lyα"}}},
{"data":{"name":"panels"},"transform":[{"filter":"datum.p=='d'"}],"mark":{"type":"text","fontSize":13,"align":"left","baseline":"middle","dx":26,"color":"black"},
"encoding":{"x":{"datum":4360,"type":"quantitative","axis":null},"y":{"datum":0.315,"type":"quantitative","axis":null},"text":{"field":"zt"}}}
]},
{"width":373,"height":100,"resolve":{"axis":{"x":"independent","y":"independent"}},
"layer":[
{"data":{"name":"red"},"mark":{"type":"line","color":"#ff0000","strokeWidth":1.3},
"encoding":{"x":{"field":"w","type":"quantitative","scale":{"domain":[3900,6800],"nice":false,"zero":false},"axis":{"orient":"bottom","values":[4000,4500,5000,5500,6000,6500],"tickSize":-8,"labels":false,"title":null}},
"y":{"field":"e","type":"quantitative","scale":{"domain":[-0.1,0.4],"nice":false,"zero":false},"axis":{"orient":"left","values":[-0.1,0,0.1,0.2,0.3,0.4],"tickSize":-7,"labelFlush":true,"format":".1f","labelPadding":12,"title":null}}}},
{"data":{"name":"blue"},"mark":{"type":"line","color":"#0000ff","strokeWidth":1.8,"strokeDash":[1.5,2]},
"encoding":{"x":{"field":"w","type":"quantitative","axis":{"orient":"bottom","values":[4000,4100,4200,4300,4400,4500,4600,4700,4800,4900,5000,5100,5200,5300,5400,5500,5600,5700,5800,5900,6000,6100,6200,6300,6400,6500,6600,6700],"tickSize":-4,"labels":false,"title":null}},
"y":{"field":"e","type":"quantitative","axis":{"orient":"left","values":[-0.08,-0.06,-0.04,-0.02,0,0.02,0.04,0.06,0.08,0.1,0.12,0.14,0.16,0.18,0.2,0.22,0.24,0.26,0.28,0.3,0.32,0.34,0.36,0.38],"tickSize":-3.5,"labels":false,"title":null}}}},
{"data":{"name":"bands"},"mark":{"type":"rect","color":"#c8c8c8"},
"encoding":{"x":{"field":"s","type":"quantitative","axis":{"orient":"top","values":[4000,4500,5000,5500,6000,6500],"tickSize":-8,"labels":false,"title":null}},"x2":{"field":"e"},
"y":{"datum":-0.1,"type":"quantitative","axis":{"orient":"right","values":[-0.1,0,0.1,0.2,0.3,0.4],"tickSize":-7,"labels":false,"title":null}},"y2":{"datum":0.4}}},
{"data":{"name":"panels"},"transform":[{"filter":"datum.p=='e'"}],"mark":{"type":"rule","color":"black","strokeWidth":1,"strokeDash":[5,3]},
"encoding":{"x":{"field":"lya","type":"quantitative","axis":{"orient":"top","values":[4000,4100,4200,4300,4400,4500,4600,4700,4800,4900,5000,5100,5200,5300,5400,5500,5600,5700,5800,5900,6000,6100,6200,6300,6400,6500,6600,6700],"tickSize":-4,"labels":false,"title":null}},
"y":{"datum":-0.1,"type":"quantitative","axis":{"orient":"right","values":[-0.08,-0.06,-0.04,-0.02,0,0.02,0.04,0.06,0.08,0.1,0.12,0.14,0.16,0.18,0.2,0.22,0.24,0.26,0.28,0.3,0.32,0.34,0.36,0.38],"tickSize":-3.5,"labels":false,"title":null}},"y2":{"datum":0.4}}},
{"data":{"name":"bars"},"transform":[{"filter":"datum.p=='e'"}],"mark":{"type":"rule","color":"black","strokeWidth":2.5},
"encoding":{"x":{"field":"x1","type":"quantitative","axis":null},"x2":{"field":"x2"},"y":{"field":"v","type":"quantitative","axis":null}}},
{"data":{"name":"bars"},"transform":[{"filter":"datum.p=='e'"}],"mark":{"type":"text","align":"left","baseline":"middle","dy":-23,"fontSize":10.5,"color":"black"},
"encoding":{"x":{"field":"x1","type":"quantitative","axis":null},"y":{"field":"v","type":"quantitative","axis":null},"text":{"field":"v","format":".3f"}}},
{"data":{"name":"panels"},"transform":[{"filter":"datum.p=='e'"}],"mark":{"type":"text","font":"Liberation Serif","fontWeight":"bold","fontSize":13,"align":"center","baseline":"middle","color":"black"},
"encoding":{"x":{"datum":4084,"type":"quantitative","axis":null},"y":{"datum":0.318,"type":"quantitative","axis":null},"text":{"field":"p"}}},
{"data":{"name":"panels"},"transform":[{"filter":"datum.p=='e'"}],"mark":{"type":"text","fontSize":13,"fontStyle":"italic","align":"left","baseline":"middle","color":"black"},
"encoding":{"x":{"datum":4360,"type":"quantitative","axis":null},"y":{"datum":0.315,"type":"quantitative","axis":null},"text":{"value":"(z"}}},
{"data":{"name":"panels"},"transform":[{"filter":"datum.p=='e'"}],"mark":{"type":"text","fontSize":8.5,"align":"left","baseline":"middle","dx":11.5,"dy":4,"color":"black"},
"encoding":{"x":{"datum":4360,"type":"quantitative","axis":null},"y":{"datum":0.315,"type":"quantitative","axis":null},"text":{"value":"Lyα"}}},
{"data":{"name":"panels"},"transform":[{"filter":"datum.p=='e'"}],"mark":{"type":"text","fontSize":13,"align":"left","baseline":"middle","dx":26,"color":"black"},
"encoding":{"x":{"datum":4360,"type":"quantitative","axis":null},"y":{"datum":0.315,"type":"quantitative","axis":null},"text":{"field":"zt"}}}
]},
{"width":373,"height":100,"resolve":{"axis":{"x":"independent","y":"independent"}},
"layer":[
{"data":{"name":"red"},"mark":{"type":"line","color":"#ff0000","strokeWidth":1.3},
"encoding":{"x":{"field":"w","type":"quantitative","scale":{"domain":[3900,6800],"nice":false,"zero":false},"axis":{"orient":"bottom","values":[4000,4500,5000,5500,6000,6500],"tickSize":-8,"labels":true,"labelPadding":16,"format":"d","title":"Observed wavelength [Å]","titleFontSize":13.5,"titlePadding":2}},
"y":{"field":"h","type":"quantitative","scale":{"domain":[-0.1,0.4],"nice":false,"zero":false},"axis":{"orient":"left","values":[-0.1,0,0.1,0.2,0.3,0.4],"tickSize":-7,"labelFlush":true,"format":".1f","labelPadding":12,"title":null}}}},
{"data":{"name":"blue"},"mark":{"type":"line","color":"#0000ff","strokeWidth":1.8,"strokeDash":[1.5,2]},
"encoding":{"x":{"field":"w","type":"quantitative","axis":{"orient":"bottom","values":[4000,4100,4200,4300,4400,4500,4600,4700,4800,4900,5000,5100,5200,5300,5400,5500,5600,5700,5800,5900,6000,6100,6200,6300,6400,6500,6600,6700],"tickSize":-4,"labels":false,"title":null}},
"y":{"field":"h","type":"quantitative","axis":{"orient":"left","values":[-0.08,-0.06,-0.04,-0.02,0,0.02,0.04,0.06,0.08,0.1,0.12,0.14,0.16,0.18,0.2,0.22,0.24,0.26,0.28,0.3,0.32,0.34,0.36,0.38],"tickSize":-3.5,"labels":false,"title":null}}}},
{"data":{"name":"bands"},"mark":{"type":"rect","color":"#c8c8c8"},
"encoding":{"x":{"field":"s","type":"quantitative","axis":{"orient":"top","values":[4000,4500,5000,5500,6000,6500],"tickSize":-8,"labels":false,"title":null}},"x2":{"field":"e"},
"y":{"datum":-0.1,"type":"quantitative","axis":{"orient":"right","values":[-0.1,0,0.1,0.2,0.3,0.4],"tickSize":-7,"labels":false,"title":null}},"y2":{"datum":0.4}}},
{"data":{"name":"panels"},"transform":[{"filter":"datum.p=='h'"}],"mark":{"type":"rule","color":"#8c8c8c","strokeWidth":1.2,"strokeDash":[5,3]},
"encoding":{"x":{"field":"lya","type":"quantitative","axis":{"orient":"top","values":[4000,4100,4200,4300,4400,4500,4600,4700,4800,4900,5000,5100,5200,5300,5400,5500,5600,5700,5800,5900,6000,6100,6200,6300,6400,6500,6600,6700],"tickSize":-4,"labels":false,"title":null}},
"y":{"datum":-0.1,"type":"quantitative","axis":{"orient":"right","values":[-0.08,-0.06,-0.04,-0.02,0,0.02,0.04,0.06,0.08,0.1,0.12,0.14,0.16,0.18,0.2,0.22,0.24,0.26,0.28,0.3,0.32,0.34,0.36,0.38],"tickSize":-3.5,"labels":false,"title":null}},"y2":{"datum":0.4}}},
{"data":{"name":"bars"},"transform":[{"filter":"datum.p=='h'"}],"mark":{"type":"rule","color":"black","strokeWidth":2.5},
"encoding":{"x":{"field":"x1","type":"quantitative","axis":null},"x2":{"field":"x2"},"y":{"field":"v","type":"quantitative","axis":null}}},
{"data":{"name":"bars"},"transform":[{"filter":"datum.p=='h'"}],"mark":{"type":"text","align":"left","baseline":"middle","dy":-23,"fontSize":10.5,"color":"black"},
"encoding":{"x":{"field":"x1","type":"quantitative","axis":null},"y":{"field":"v","type":"quantitative","axis":null},"text":{"field":"v","format":".3f"}}},
{"data":{"name":"panels"},"transform":[{"filter":"datum.p=='h'"}],"mark":{"type":"text","font":"Liberation Serif","fontWeight":"bold","fontSize":13,"align":"center","baseline":"middle","color":"black"},
"encoding":{"x":{"datum":4084,"type":"quantitative","axis":null},"y":{"datum":0.318,"type":"quantitative","axis":null},"text":{"field":"p"}}},
{"data":{"name":"panels"},"transform":[{"filter":"datum.p=='h'"}],"mark":{"type":"text","fontSize":13,"fontStyle":"italic","align":"left","baseline":"middle","color":"black"},
"encoding":{"x":{"datum":4360,"type":"quantitative","axis":null},"y":{"datum":0.315,"type":"quantitative","axis":null},"text":{"value":"(z"}}},
{"data":{"name":"panels"},"transform":[{"filter":"datum.p=='h'"}],"mark":{"type":"text","fontSize":8.5,"align":"left","baseline":"middle","dx":11.5,"dy":4,"color":"black"},
"encoding":{"x":{"datum":4360,"type":"quantitative","axis":null},"y":{"datum":0.315,"type":"quantitative","axis":null},"text":{"value":"Lyα"}}},
{"data":{"name":"panels"},"transform":[{"filter":"datum.p=='h'"}],"mark":{"type":"text","fontSize":13,"align":"left","baseline":"middle","dx":26,"color":"black"},
"encoding":{"x":{"datum":4360,"type":"quantitative","axis":null},"y":{"datum":0.315,"type":"quantitative","axis":null},"text":{"field":"zt"}}}
]}
]
}
